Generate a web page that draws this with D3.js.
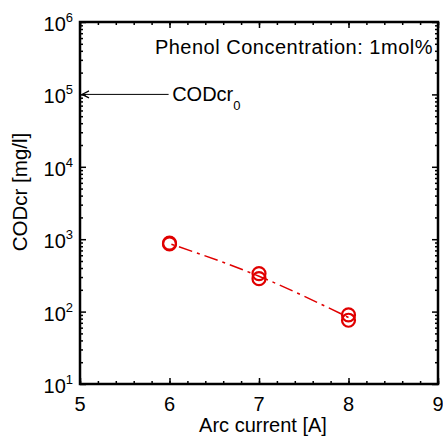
<!DOCTYPE html>
<html>
<head>
<meta charset="utf-8">
<script src="https://cdn.jsdelivr.net/npm/d3@7"></script>
<style>
body { margin: 0; background: #fff; }
text { font-family: "Liberation Sans", Arial, sans-serif; fill: #000; }
</style>
</head>
<body>
<div id="chart"></div>
<script>
// measured points (two runs per current)
var current = [6, 6, 7, 7, 8, 8];
var codcr = [880, 860, 335, 285, 90, 76];
// dash-dot trend line
var trendX = [6, 7, 8];
var trendY = [870, 308, 83];
var xTicks = [5, 6, 7, 8, 9];
var yExp = [1, 2, 3, 4, 5, 6];
var cod0 = 1e5;

var w = 443, h = 439;
var margin = { left: 80, right: 5, top: 22, bottom: 55 };
var pw = w - margin.left - margin.right;
var ph = h - margin.top - margin.bottom;

var svg = d3.select("#chart").append("svg")
	.attr("width", w)
	.attr("height", h);

var g = svg.append("g")
	.attr("transform", "translate(" + margin.left + "," + margin.top + ")");

var x = d3.scaleLinear().domain([5, 9]).range([0, pw]);
var y = d3.scaleLog().domain([10, 1e6]).range([ph, 0]);

// minor ticks
var xMinor = d3.range(5, 9.001, 0.2);
var yMinor = [];
for (var e = 1; e < 6; e++) {
	for (var m = 2; m < 10; m++) yMinor.push(m * Math.pow(10, e));
}

function tickSet(axis, len, vals) {
	return axis.tickValues(vals).tickSize(-len).tickFormat("");
}

g.append("g").attr("transform", "translate(0," + ph + ")")
	.call(tickSet(d3.axisBottom(x), 3, xMinor));
g.append("g")
	.call(tickSet(d3.axisTop(x), 3, xMinor)).selectAll("line").attr("y2", 3);
g.append("g").attr("transform", "translate(0," + ph + ")")
	.call(tickSet(d3.axisBottom(x), 6, xTicks));
g.append("g")
	.call(tickSet(d3.axisTop(x), 6, xTicks)).selectAll("line").attr("y2", 6);

g.append("g").call(tickSet(d3.axisLeft(y), 3, yMinor));
g.append("g").attr("transform", "translate(" + pw + ",0)")
	.call(tickSet(d3.axisRight(y), 3, yMinor));
var yMajor = yExp.map(function(d) { return Math.pow(10, d); });
g.append("g").call(tickSet(d3.axisLeft(y), 6, yMajor));
g.append("g").attr("transform", "translate(" + pw + ",0)")
	.call(tickSet(d3.axisRight(y), 6, yMajor));

g.selectAll(".domain").remove();
g.selectAll(".tick line").attr("stroke", "#000").attr("stroke-width", 1.5);

// frame
g.append("rect")
	.attr("width", pw).attr("height", ph)
	.attr("fill", "none").attr("stroke", "#000").attr("stroke-width", 2.5);

// tick labels
g.selectAll(".xlab").data(xTicks).enter().append("text")
	.attr("x", function(d) { return x(d); })
	.attr("y", ph + 27)
	.attr("text-anchor", "middle")
	.style("font-size", "20px")
	.text(function(d) { return d; });

var yl = g.selectAll(".ylab").data(yExp).enter().append("text")
	.attr("x", -7)
	.attr("y", function(d) { return y(Math.pow(10, d)) + 9; })
	.attr("text-anchor", "end")
	.style("font-size", "20px");
yl.append("tspan").text("10");
yl.append("tspan").attr("dy", -9).style("font-size", "13px")
	.text(function(d) { return d; });

// axis titles
svg.append("text")
	.attr("x", margin.left + pw / 2 + 4)
	.attr("y", 432)
	.attr("text-anchor", "middle")
	.style("font-size", "20px")
	.text("Arc current [A]");
svg.append("text")
	.attr("transform", "translate(27,192) rotate(-90)")
	.attr("text-anchor", "middle")
	.style("font-size", "20.5px")
	.text("CODcr [mg/l]");

// annotation
g.append("text")
	.attr("x", pw - 5)
	.attr("y", 32)
	.attr("text-anchor", "end")
	.style("font-size", "20px")
	.style("letter-spacing", "0.5px")
	.text("Phenol Concentration: 1mol%");

// arrow to initial CODcr
var ya = y(cod0);
g.append("line")
	.attr("x1", x(5.99)).attr("y1", ya)
	.attr("x2", 2).attr("y2", ya)
	.attr("stroke", "#000").attr("stroke-width", 1);
g.append("path")
	.attr("d", "M9," + (ya - 3.5) + "L2," + ya + "L9," + (ya + 3.5))
	.attr("fill", "none").attr("stroke", "#000").attr("stroke-width", 1.2);

var lab0 = g.append("text")
	.attr("x", x(6.03))
	.attr("y", ya + 7)
	.style("font-size", "20px");
lab0.append("tspan").text("CODcr");
lab0.append("tspan").attr("dy", 9).style("font-size", "13px").text("0");

// trend line
var line = d3.line()
	.x(function(d, i) { return x(trendX[i]); })
	.y(function(d) { return y(d); })
	.curve(d3.curveMonotoneX);

g.append("path")
	.datum(trendY)
	.attr("d", line)
	.attr("fill", "none")
	.attr("stroke", "#e00000")
	.attr("stroke-width", 1.5)
	.attr("stroke-dasharray", "14,5,3,5")
	.attr("stroke-dashoffset", -10);

// points
g.selectAll("circle").data(codcr).enter().append("circle")
	.attr("cx", function(d, i) { return x(current[i]); })
	.attr("cy", function(d) { return y(d); })
	.attr("r", 6.5)
	.attr("fill", "none")
	.attr("stroke", "#e00000")
	.attr("stroke-width", 2.2);
</script>
</body>
</html>
